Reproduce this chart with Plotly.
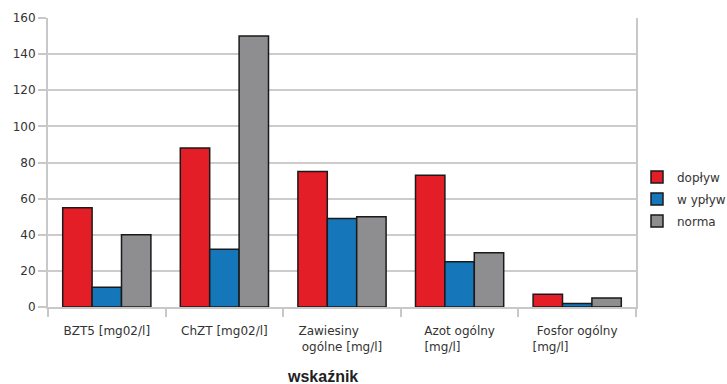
import plotly.graph_objects as go

# Wskaźniki zanieczyszczeń: dopływ, wypływ i norma
NB = "\u00a0"
categories = [
    "BZT5 [mg02/l]",
    "ChZT [mg02/l]",
    "Zawiesiny" + NB * 7 + "<br>ogólne [mg/l]",
    "Azot ogólny<br>[mg/l]" + NB * 9,
    "Fosfor ogólny<br>[mg/l]" + NB * 14,
]
doplyw = [55, 88, 75, 73, 7]
wyplyw = [11, 32, 49, 25, 2]
norma = [40, 150, 50, 30, 5]

series_names = ["dopływ", "w ypływ", "norma"]
series_colors = ["#E41E26", "#1576B9", "#8E8E90"]
y_ticks = [0, 20, 40, 60, 80, 100, 120, 140, 160]

fig = go.Figure()
for name, vals, col in zip(series_names, [doplyw, wyplyw, norma], series_colors):
    fig.add_trace(go.Bar(
        name=name, x=categories, y=vals, legendgroup=name,
        marker=dict(color=col, line=dict(color="#1a1a1a", width=1.5)),
    ))

fig.update_layout(
    width=727, height=384,
    margin=dict(l=48, r=91, t=18, b=77, autoexpand=False),
    paper_bgcolor="white", plot_bgcolor="white",
    barmode="group", bargap=0.25, bargroupgap=0,
    font=dict(family="DejaVu Sans, sans-serif", size=12, color="#333333"),
    showlegend=True,
    legend=dict(xref="container", yref="container",
                x=637 / 727, xanchor="left", y=1 - 199 / 384, yanchor="middle",
                font=dict(family="DejaVu Sans, sans-serif", size=12, color="#333333"),
                itemwidth=30, tracegroupgap=3, bgcolor="rgba(0,0,0,0)"),
    xaxis=dict(
        showline=True, linecolor="#c8c8c8", linewidth=2,
        ticks="outside", ticklen=8, tickcolor="#c8c8c8", tickwidth=2,
        tickson="boundaries", showgrid=False, mirror=False,
        ticklabelstandoff=12,
        tickfont=dict(family="DejaVu Sans, sans-serif", size=12, color="#333333"),
    ),
    yaxis=dict(
        range=[0, 160], tickvals=y_ticks,
        showgrid=True, gridcolor="#cccccc", gridwidth=2,
        showline=True, linecolor="#c8c8c8", linewidth=2, mirror=True,
        ticks="outside", ticklen=8, tickcolor="#c8c8c8", tickwidth=2,
        tickfont=dict(family="DejaVu Sans, sans-serif", size=12, color="#333333"),
        zeroline=False,
    ),
    annotations=[dict(
        text="<b>wskaźnik</b>", xref="paper", yref="paper",
        x=0.467, y=-0.242, xanchor="center", yanchor="middle",
        showarrow=False,
        font=dict(family="Liberation Sans, Arial, sans-serif", size=16, color="#222222"),
    )],
)

fig.write_html("out.html")
